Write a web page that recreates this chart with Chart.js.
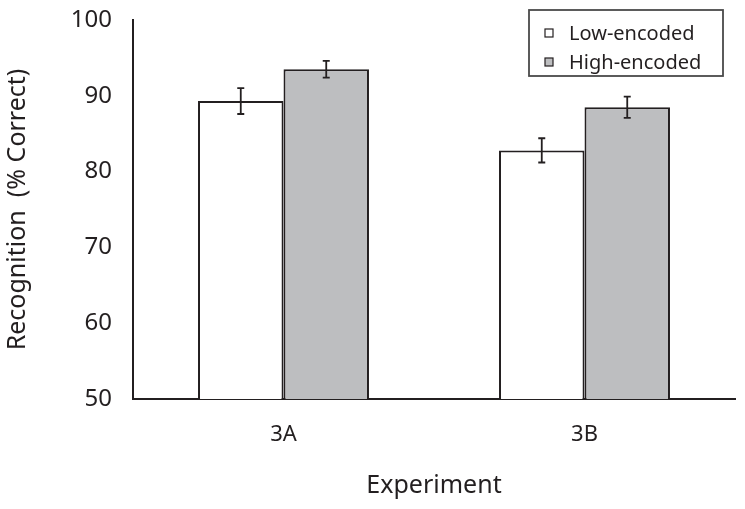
<!DOCTYPE html>
<html><head><meta charset="utf-8">
<script src="https://cdn.jsdelivr.net/npm/chart.js@4.4.0/dist/chart.umd.min.js"></script>
<style>html,body{margin:0;padding:0;background:#fff}#wrap{width:745px;height:509px}</style>
</head><body><div id="wrap"><canvas id="c" width="745" height="509"></canvas></div>
<script>
const categories = ["3A", "3B"];
const seriesNames = ["Low-encoded", "High-encoded"];
const lowValues = [89.3, 82.8];
const highValues = [93.5, 88.5];
const lowErrors = [1.7, 1.6];
const highErrors = [1.1, 1.4];
const yTicks = [50, 60, 70, 80, 90, 100];

const FONT = "'Noto Sans', 'Open Sans', sans-serif";
const INK = '#231f20';

const errorPlugin = {
  id: 'errbars',
  afterDatasetsDraw(chart) {
    const ctx = chart.ctx, y = chart.scales.y;
    const errs = [lowErrors, highErrors];
    chart.data.datasets.forEach((ds, di) => {
      const meta = chart.getDatasetMeta(di);
      meta.data.forEach((bar, i) => {
        const v = ds.data[i], e = errs[di][i];
        const yt = y.getPixelForValue(v + e), yb = y.getPixelForValue(v - e);
        ctx.save();
        ctx.strokeStyle = INK; ctx.lineWidth = 1.8;
        ctx.beginPath();
        ctx.moveTo(bar.x, yt); ctx.lineTo(bar.x, yb);
        ctx.moveTo(bar.x - 3.5, yt); ctx.lineTo(bar.x + 3.5, yt);
        ctx.moveTo(bar.x - 3.5, yb); ctx.lineTo(bar.x + 3.5, yb);
        ctx.stroke();
        ctx.restore();
      });
    });
  }
};

const legendPlugin = {
  id: 'boxlegend',
  afterDraw(chart) {
    const ctx = chart.ctx;
    ctx.save();
    ctx.strokeStyle = '#4a4a4a'; ctx.lineWidth = 1.8;
    ctx.fillStyle = '#fff';
    ctx.fillRect(529, 10, 194, 66);
    ctx.strokeRect(529, 10, 194, 66);
    const fills = ['#ffffff', '#bdbec0'];
    const ys = [33, 62];
    ctx.font = "20px " + FONT;
    ctx.textBaseline = 'middle';
    seriesNames.forEach((n, i) => {
      ctx.fillStyle = fills[i];
      ctx.fillRect(545, ys[i] - 4, 8, 8);
      ctx.strokeStyle = INK; ctx.lineWidth = 1.2;
      ctx.strokeRect(545, ys[i] - 4, 8, 8);
      ctx.fillStyle = INK;
      ctx.fillText(n, 569, ys[i] + 1);
    });
    ctx.restore();
  }
};

new Chart(document.getElementById('c'), {
  type: 'bar',
  data: {
    labels: categories,
    datasets: [
      { label: seriesNames[0], data: lowValues, backgroundColor: '#ffffff', borderColor: INK, borderWidth: 2, borderSkipped: 'bottom' },
      { label: seriesNames[1], data: highValues, backgroundColor: '#bdbec0', borderColor: INK, borderWidth: 2, borderSkipped: 'bottom' }
    ]
  },
  options: {
    responsive: false,
    animation: false,
    events: [],
    layout: { padding: { left: 0, right: 10, top: 20, bottom: 0 } },
    datasets: { bar: { categoryPercentage: 0.568, barPercentage: 1.0 } },
    plugins: { legend: { display: false }, tooltip: { enabled: false } },
    scales: {
      x: {
        grid: { display: false, drawTicks: false },
        border: { display: true, color: INK, width: 2 },
        ticks: { color: INK, font: { family: FONT, size: 22 }, padding: 23 },
        title: { display: true, text: 'Experiment', color: INK, font: { family: FONT, size: 25 }, padding: { top: 10, bottom: 8 } },
        afterFit(s) { s.height = 110; s.paddingLeft = 0; s.paddingRight = 0; }
      },
      y: {
        min: 50, max: 100,
        afterBuildTicks(s) { s.ticks = yTicks.map(v => ({ value: v })); },
        grid: { display: false, drawTicks: false },
        border: { display: true, color: INK, width: 2 },
        ticks: { color: INK, font: { family: FONT, size: 24 }, padding: 21 },
        title: { display: true, text: 'Recognition  (% Correct)', color: INK, font: { family: FONT, size: 25 }, padding: { top: 3, bottom: 0 } },
        afterFit(s) { s.width = 133; s.paddingTop = 0; s.paddingBottom = 0; }
      }
    }
  },
  plugins: [errorPlugin, legendPlugin]
});
</script></body></html>
